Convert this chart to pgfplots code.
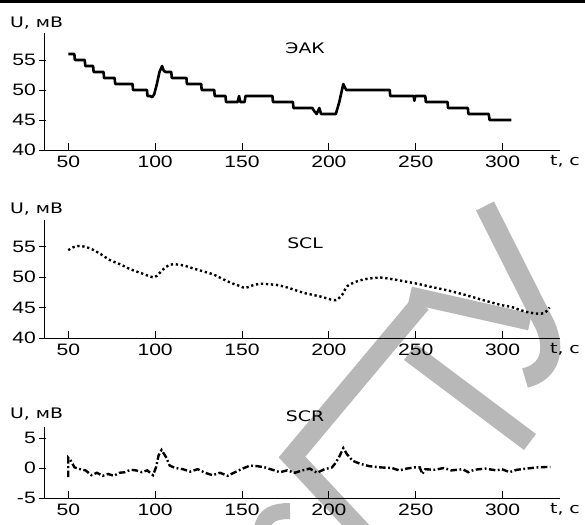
\documentclass[border=0pt]{standalone}
\usepackage{fontspec}
\setmainfont[FakeStretch=1.28]{Liberation Sans}
\newfontfamily\labfont[FakeStretch=1.3]{DejaVu Sans}
\usepackage{pgfplots}
\pgfplotsset{compat=1.18}
\definecolor{wm}{gray}{0.72}

\pgfplotsset{
  panel/.style={
    scale only axis, width=515.5pt,
    xmin=36.5, xmax=333.2,
    enlargelimits=false, clip=false,
    axis x line*=bottom, axis y line*=left,
    axis line style={-, line width=0.9pt},
    xtick={50,100,...,300},
    tick align=inside,
    major tick length=7pt,
    tick style={line width=0.8pt, black},
    y tick style={xshift=-6pt},
    /pgf/number format/assume math mode=true,
    ticklabel style={font=\fontsize{16.5}{18}\selectfont},
    yticklabel style={xshift=-5.5pt},
    xticklabel style={yshift=-2pt},
  },
}
\tikzset{
  lab/.style={font=\labfont\fontsize{14.5}{15}\selectfont},
  tlab/.style={font=\labfont\fontsize{14.5}{15}\selectfont},
}

\begin{document}
\begin{tikzpicture}
\useasboundingbox (0,0) rectangle (585pt,-524pt);

% watermark behind the plots
\begin{scope}[x=1pt, y=-1pt, wm, line width=20pt]
  \draw (485,206) -- (545,325) .. controls (556,350) and (550,372) .. (525,378);
  \draw[line width=17pt] (410,295) -- (530,322);
  \draw[miter limit=3] (421,303) -- (292,457) -- (364,534);
  \draw (410,352) -- (530,442);
  \draw[line width=16pt] (262,528) .. controls (265,515) and (274,511) .. (290,511);
\end{scope}

\draw[line width=2.5pt] (0,-1.5pt) -- (585pt,-1.5pt);

% ---- panel 1: EAK
\begin{axis}[panel, at={(44.8pt,-150pt)}, anchor=south west,
  height=117pt, ymin=40, ymax=59.5, ytick={40,45,50,55}]
  \addplot[black, line width=2.6pt, line join=round] coordinates {
    (50,56) (53.5,56) (53.8,55) (59.5,55) (59.8,54) (64.3,54) (64.6,53)
    (70.3,53) (70.6,52) (76.7,52) (77,51) (87,51) (87.3,50) (95.3,50)
    (95.6,49) (97,49) (98.3,48.8) (99.5,49.3) (101,51) (102.5,53)
    (104,54) (105,53.2) (106,53) (109.3,53) (109.6,52) (118,52)
    (118.3,51) (126.5,51) (126.8,50) (134,50) (134.3,49) (140.5,49)
    (140.8,48) (147.5,48) (148.3,49) (149,48) (151.5,48) (152,49)
    (167.5,49) (167.8,48) (179.3,48) (179.6,47) (190.5,47) (191.5,46.5)
    (193,46) (194.5,47) (195.5,46) (204,46) (206,48) (208.3,51)
    (210,50) (235,50) (235.3,49) (248.8,49) (249.2,48.2) (249.7,49)
    (255.5,49) (255.8,48) (268.3,48) (268.6,47) (280,47) (280.3,46)
    (292,46) (292.5,45) (305,45)
  };
  \node[lab, anchor=base] at ([xshift=-8.3pt,yshift=5pt]rel axis cs:0,1) {U, мВ};
  \node[lab] at (axis cs:186.3,57) {ЭАК};
  \node[tlab] at ([xshift=4.7pt,yshift=-11pt]rel axis cs:1,0) {t, с};
\end{axis}

% ---- panel 2: SCL
\begin{axis}[panel, at={(44.8pt,-338pt)}, anchor=south west,
  height=118pt, ymin=40, ymax=59.35, ytick={40,45,50,55}]
  \addplot[black, line width=2.4pt, dash pattern=on 2.3pt off 2.7pt, smooth] coordinates {
    (50,54.4) (53,54.9) (56.7,55.1) (62.5,54.7) (69,53.7) (73.8,52.8)
    (79.8,52.1) (85.6,51.3) (91.3,50.7) (97,50.1) (99.5,49.95) (101,50.2)
    (104.8,51.3) (107.7,51.9) (110.6,52.1) (116.3,51.9) (122,51.4)
    (128,50.9) (133.7,50.4) (139.4,49.6) (144,49.0) (149,48.5) (151.9,48.2)
    (155.8,48.6) (160.6,48.9) (166.3,48.8) (170,48.7) (175.9,48.3)
    (185.6,47.4) (195.2,46.8) (200,46.4) (204,46.2) (207.7,47.1)
    (210.6,48.5) (216.3,49.3) (222,49.7) (229.8,49.9) (237.5,49.6)
    (245.2,49.2) (250.9,48.9) (258.6,48.4) (268.4,47.8) (278,47.1)
    (287.7,46.3) (299.3,45.4) (305,45.1) (310,44.6) (315,44.2) (320,44.0)
    (324,44.1) (327,45.0)
  };
  \node[lab, anchor=base] at ([xshift=-8.3pt,yshift=7pt]rel axis cs:0,1) {U, мВ};
  \node[lab] at (axis cs:186.3,55.6) {SCL};
  \node[tlab] at ([xshift=4.7pt,yshift=-11pt]rel axis cs:1,0) {t, с};
\end{axis}

% ---- panel 3: SCR
\begin{axis}[panel, at={(44.8pt,-498pt)}, anchor=south west,
  height=71pt, ymin=-5, ymax=6.83, ytick={-5,0,5}]
  \addplot[black, line width=2.4pt, dash pattern=on 6.5pt off 2.5pt on 1.8pt off 2.5pt] coordinates {
    (50,-1.5) (50,1.7) (51.5,1.2) (53.6,0.1) (56.9,-0.2) (60,-0.4)
    (63.3,-1.2) (66.5,-0.8) (69.8,-1.3) (73,-1) (76.2,-1.3) (79.4,-0.8)
    (82.6,-0.7) (85.9,-0.3) (89,-0.4) (92.3,-0.7) (95.5,-0.4) (98.8,-1.2)
    (100.5,0.1) (102,2.1) (103.7,3.0) (106.3,1.8) (108.4,0.4) (111.6,0)
    (116,-0.2) (120.2,-0.6) (124.5,-0.2) (128.8,-0.8) (133,-1.2)
    (137.4,-0.8) (141.7,-1.3) (146,-0.7) (150.3,-0.1) (154.6,0.4)
    (158.9,0.3) (163.2,0.1) (167.5,-0.3) (171.8,-0.7) (176,-0.4)
    (180.4,-0.8) (184.7,-0.4) (189,-0.1) (193.2,-0.8) (197.5,-0.2)
    (201.8,0.1) (204,0.9) (206,1.9) (208.3,3.3) (210.4,2.3) (213.7,1.2)
    (218,0.7) (223.3,0.3) (229.8,0.1) (236.2,0) (240.5,-0.4) (244.8,-0.1)
    (249,0.1) (252.3,0.1) (253.8,-1.0) (255.5,-0.2) (260.8,-0.3)
    (266.2,0) (270.5,-0.4) (277,-0.2) (280.2,-0.7) (283.5,-0.3)
    (289.9,-0.1) (296.4,-0.4) (299.6,-0.2) (304,-0.7) (308.2,-0.3)
    (313.6,-0.1) (320,0.1) (327.5,0.2)
  };
  \node[lab, anchor=base] at ([xshift=-8.3pt,yshift=9pt]rel axis cs:0,1) {U, мВ};
  \node[lab] at (axis cs:186.3,8.55) {SCR};
  \node[tlab] at ([xshift=4.7pt,yshift=-11pt]rel axis cs:1,0) {t, с};
\end{axis}
\end{tikzpicture}
\end{document}
